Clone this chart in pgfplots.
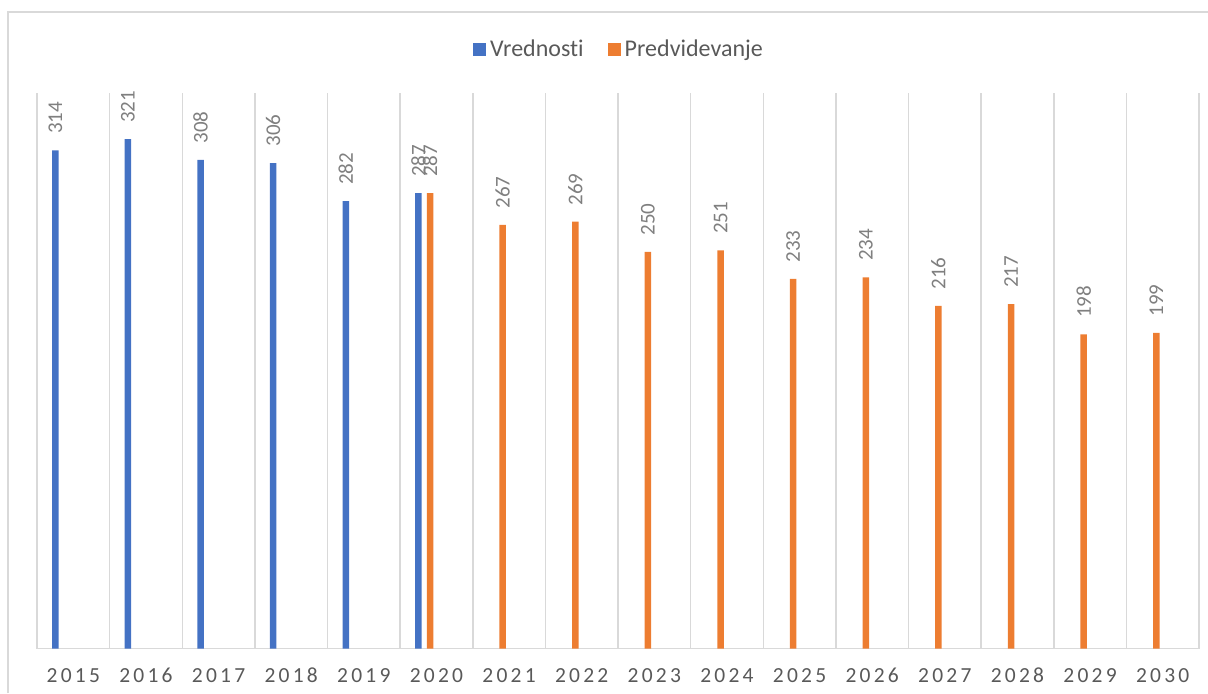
\documentclass[border=0pt]{standalone}
\usepackage{fontspec}
\setmainfont{Carlito}[Ligatures={NoCommon}]
\usepackage{pgfplots}
\pgfplotsset{compat=1.18}
\definecolor{cblue}{HTML}{4472C4}
\definecolor{corange}{HTML}{ED7D31}
\definecolor{gridc}{HTML}{D9D9D9}
\definecolor{tickc}{HTML}{595959}
\definecolor{labc}{HTML}{7F7F7F}
\begin{document}
\begin{tikzpicture}
\path[use as bounding box] (0,0) rectangle (604pt,346.5pt);
\draw[gridc, line width=0.75pt] (4pt,0pt) -- (4pt,340.5pt) -- (604pt,340.5pt);
\begin{axis}[
  at={(18.5pt,22.25pt)}, anchor=south west,
  scale only axis, width=581pt, height=277.65pt,
  xmin=-0.5, xmax=15.5, ymin=0, ymax=350,
  axis y line=none,
  axis x line*=bottom,
  x axis line style={gridc, line width=0.75pt, -},
  xtick={0,...,15},
  xticklabels={2015,2016,2017,2018,2019,2020,2021,2022,2023,2024,2025,2026,2027,2028,2029,2030},
  major tick length=0pt,
  minor xtick={-0.5,0.5,...,15.5},
  minor tick length=0pt,
  xminorgrids=true,
  minor grid style={gridc, line width=0.75pt},
  xticklabel style={anchor=base, yshift=-17.2pt, font=\fontsize{10.75}{12}\selectfont\addfontfeature{LetterSpace=15}, text=tickc},
  /pgf/number format/assume math mode=true,
  bar width=3.25pt,
  nodes near coords,
  legend columns=2,
  legend style={draw=none, fill=none, at={(0.5017,1.0787)}, anchor=center, font=\fontsize{12}{14}\selectfont, text=tickc, /tikz/every even column/.append style={column sep=10pt}},
]
\addplot[ybar, fill=cblue, draw=none, bar shift=-9pt,
  every node near coord/.append style={xshift=-9pt, rotate=90, anchor=west, inner xsep=8pt, inner ysep=0pt, font=\fontsize{10.5}{12}\selectfont, text=labc},
  legend image code/.code={\fill[cblue] (0pt,-3.25pt) rectangle (6.5pt,3.25pt);}]
  coordinates {(0,314) (1,321) (2,308) (3,306) (4,282) (5,287)};
\addlegendentry{Vrednosti}
\addplot[ybar, fill=corange, draw=none, bar shift=-3.2pt,
  every node near coord/.append style={xshift=-3.2pt, rotate=90, anchor=west, inner xsep=8pt, inner ysep=0pt, font=\fontsize{10.5}{12}\selectfont, text=labc},
  legend image code/.code={\fill[corange] (0pt,-3.25pt) rectangle (6.5pt,3.25pt);}]
  coordinates {(5,287) (6,267) (7,269) (8,250) (9,251) (10,233) (11,234) (12,216) (13,217) (14,198) (15,199)};
\addlegendentry{Predvidevanje}
\end{axis}
\end{tikzpicture}
\end{document}
